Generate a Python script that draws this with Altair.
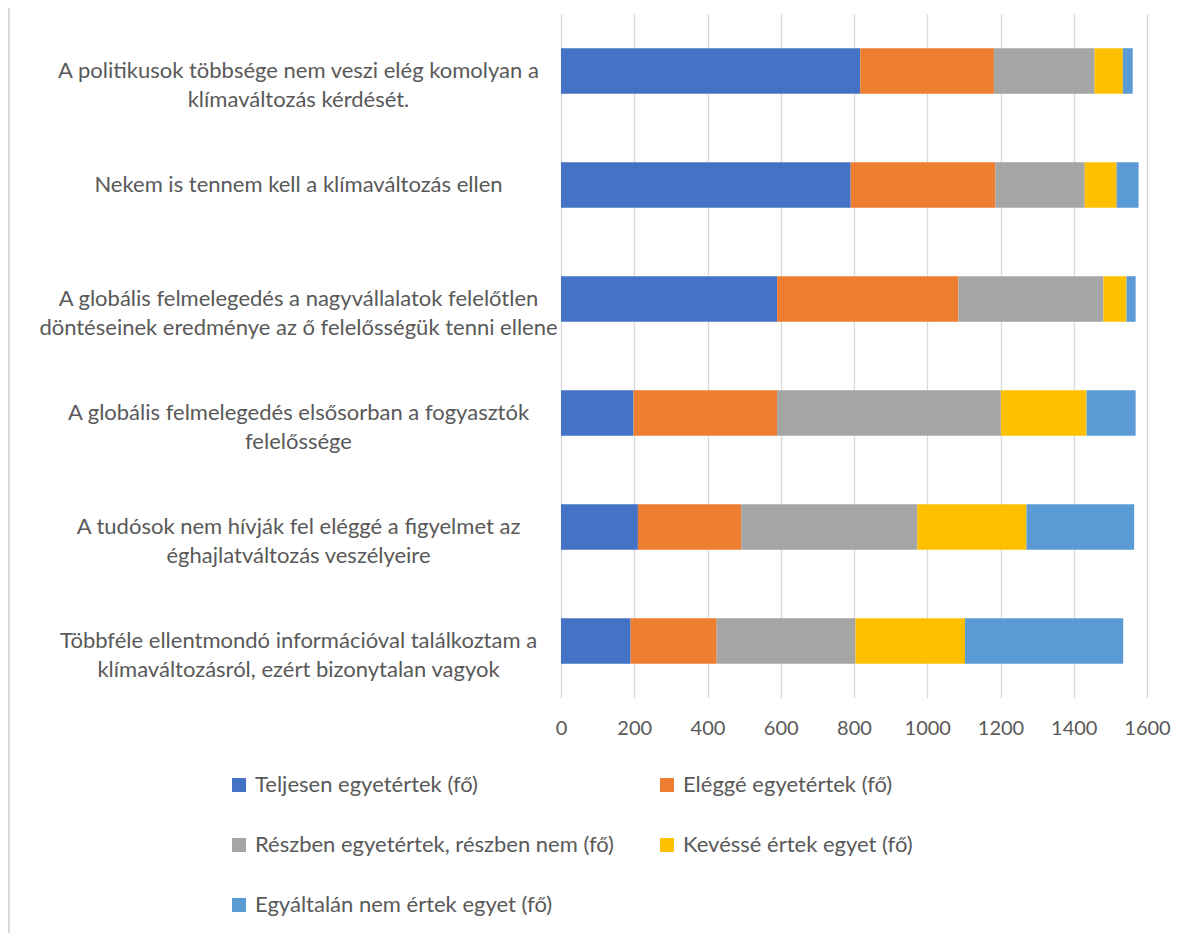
import altair as alt
import pandas as pd

categories = [
    "A politikusok többsége nem veszi elég komolyan a|klímaváltozás kérdését.",
    "Nekem is tennem kell a klímaváltozás ellen",
    "A globális felmelegedés a nagyvállalatok felelőtlen|döntéseinek eredménye az ő felelősségük tenni ellene",
    "A globális felmelegedés elsősorban a fogyasztók|felelőssége",
    "A tudósok nem hívják fel eléggé a figyelmet az|éghajlatváltozás veszélyeire",
    "Többféle ellentmondó információval találkoztam a|klímaváltozásról, ezért bizonytalan vagyok",
]
series = [
    "Teljesen egyetértek (fő)",
    "Eléggé egyetértek (fő)",
    "Részben egyetértek, részben nem (fő)",
    "Kevéssé értek egyet (fő)",
    "Egyáltalán nem értek egyet (fő)",
]
teljesen = [817, 791, 590, 198, 210, 190]
elegge = [365, 395, 495, 392, 282, 235]
reszben = [275, 244, 396, 611, 481, 379]
kevesse = [77, 87, 63, 234, 298, 299]
egyaltalan = [27, 60, 25, 134, 294, 432]
colors = ["#4472C4", "#ED7D31", "#A5A5A5", "#FFC000", "#5B9BD5"]
x_ticks = [0, 200, 400, 600, 800, 1000, 1200, 1400, 1600]

rows = []
for si, (name, vals) in enumerate(zip(series, [teljesen, elegge, reszben, kevesse, egyaltalan])):
    for cat, v in zip(categories, vals):
        rows.append({"cat": cat, "series": name, "value": v, "idx": si})
df = pd.DataFrame(rows)

# legend fills column-wise: reorder so that it reads row-wise like the original
legend_order = [0, 2, 4, 1, 3]
legend_domain = [series[i] for i in legend_order]
legend_range = [colors[i] for i in legend_order]

FONT = "Lato"
TXT = "#595959"

bars = alt.Chart(df).mark_bar().encode(
    y=alt.Y(
        "cat:N",
        sort=categories,
        scale=alt.Scale(paddingInner=0.6, paddingOuter=0.3),
        axis=alt.Axis(
            title=None,
            labelExpr="split(datum.label, '|')",
            labelAlign="center",
            labelPadding=263,
            labelLimit=800,
            labelFontSize=22,
            labelFont=FONT,
            labelColor=TXT,
            labelLineHeight=29,
            ticks=False,
            tickSize=0,
            domain=False,
            grid=False,
        ),
    ),
    x=alt.X(
        "value:Q",
        stack="zero",
        scale=alt.Scale(domain=[0, 1600], nice=False),
        axis=alt.Axis(
            title=None,
            values=x_ticks,
            format="d",
            grid=True,
            gridColor="#d9d9d9",
            gridWidth=1.3,
            domain=False,
            ticks=False,
            tickSize=0,
            labelFlush=False,
            labelOverlap=False,
            labelFontSize=20,
            labelFont=FONT,
            labelColor=TXT,
            labelPadding=20,
        ),
    ),
    color=alt.Color(
        "series:N",
        scale=alt.Scale(domain=legend_domain, range=legend_range),
        legend=alt.Legend(
            title=None,
            orient="none",
            legendX=-333,
            legendY=760,
            columns=2,
            symbolType="square",
            symbolSize=196,
            symbolStrokeWidth=0,
            labelFontSize=22,
            labelFont=FONT,
            labelColor=TXT,
            labelOffset=5,
            rowPadding=38,
            columnPadding=42,
            padding=0,
            labelLimit=800,
        ),
    ),
    order=alt.Order("idx:Q"),
)

frame = alt.Chart(df).mark_rule(color="#d9d9d9", strokeWidth=1.5).encode(
    x=alt.value(-552), y=alt.value(-6), y2=alt.value(943)
)

chart = alt.layer(frame, bars).properties(
    width=586,
    height=684,
    autosize="none",
    padding={"left": 553, "top": 6, "right": 24, "bottom": 235},
).configure_view(stroke=None)

chart.save("out.html", embed_options={"renderer": "svg", "actions": False})
